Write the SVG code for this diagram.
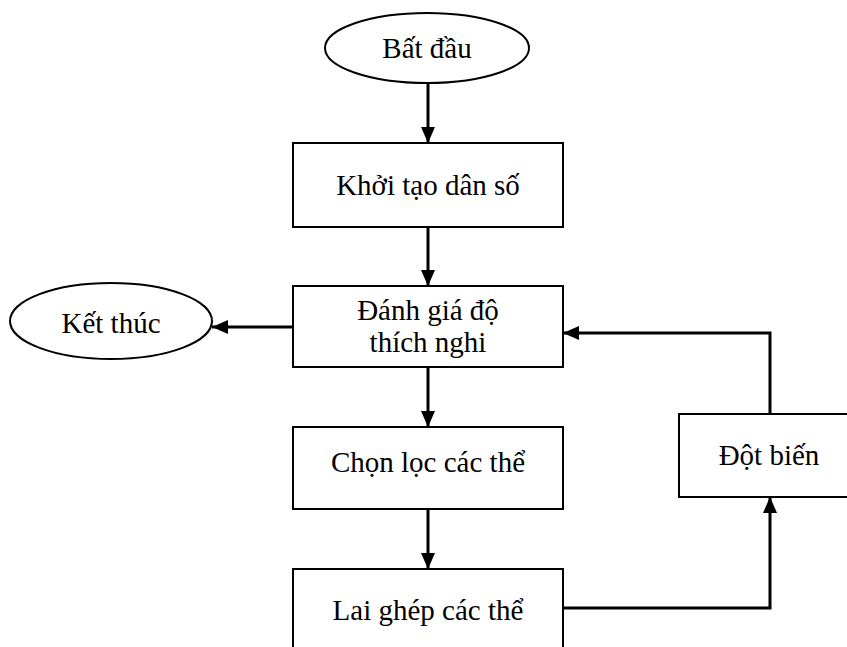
<svg xmlns="http://www.w3.org/2000/svg" width="847" height="647" viewBox="0 0 847 647">
<style>
.n{fill:#fff;stroke:#000;stroke-width:2}
.t{font-family:"Liberation Serif","Times New Roman",serif;font-size:29px;fill:#000;text-anchor:middle}
.c{fill:none;stroke:#000;stroke-width:3;marker-end:url(#a)}
</style>
<defs>
<marker id="a" markerUnits="userSpaceOnUse" markerWidth="16" markerHeight="16" viewBox="0 0 16 16" refX="16" refY="8" orient="auto">
<path d="M0,1 L16,8 L0,15 Z" fill="#000"/>
</marker>
</defs>
<rect width="847" height="647" fill="#fff"/>
<g id="connectors">
<path class="c" d="M428,83 V143"/>
<path class="c" d="M428,227 V286"/>
<path class="c" d="M428,367 V427"/>
<path class="c" d="M428,509 V569"/>
<path class="c" d="M293,327 H212"/>
<path class="c" d="M563,608 H770 V497"/>
<path class="c" d="M770,414 V333 H563"/>
</g>
<g id="start"><ellipse class="n" cx="427" cy="48" rx="102" ry="35"/><text class="t" x="427" y="58">Bất đầu</text></g>
<g id="init"><rect class="n" x="293" y="143" width="270" height="84"/><text class="t" x="428" y="195">Khởi tạo dân số</text></g>
<g id="eval"><rect class="n" x="293" y="286" width="270" height="81"/><text class="t" x="428" y="320">Đánh giá độ</text><text class="t" x="428" y="352">thích nghi</text></g>
<g id="end"><ellipse class="n" cx="111" cy="321" rx="101" ry="38"/><text class="t" x="111" y="333">Kết thúc</text></g>
<g id="select"><rect class="n" x="293" y="427" width="270" height="82"/><text class="t" x="428" y="472">Chọn lọc các thể</text></g>
<g id="crossover"><rect class="n" x="293" y="569" width="270" height="95"/><text class="t" x="428" y="620">Lai ghép các thể</text></g>
<g id="mutation"><rect class="n" x="679" y="414" width="185" height="83"/><text class="t" x="769" y="465">Đột biến</text></g>
</svg>
